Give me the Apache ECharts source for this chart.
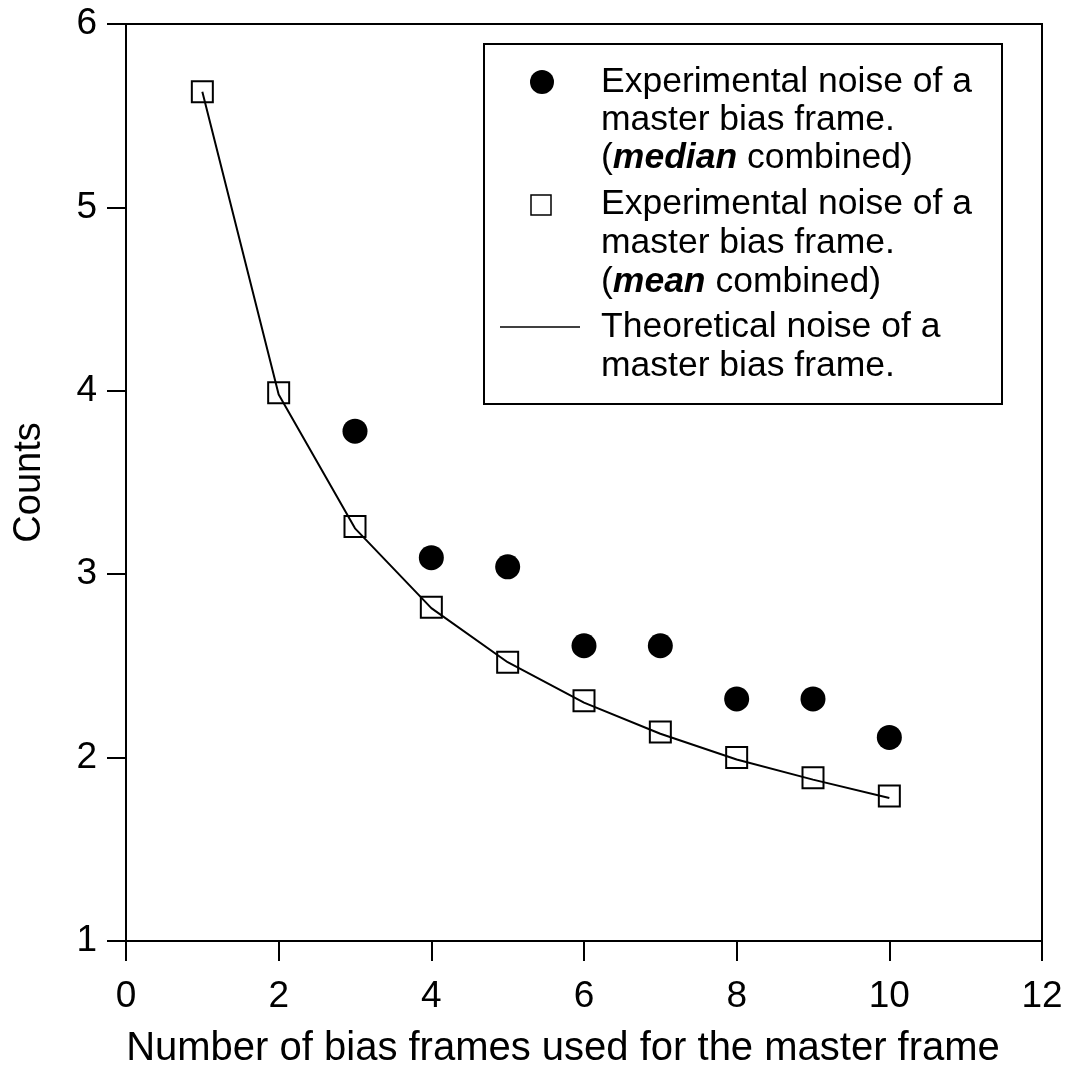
<!DOCTYPE html>
<html>
<head>
<meta charset="utf-8">
<script src="https://cdn.jsdelivr.net/npm/echarts@6/dist/echarts.min.js"></script>
<style>
html,body{margin:0;padding:0;background:#fff;}
#chart{width:1068px;height:1074px;}
</style>
</head>
<body>
<div id="chart"></div>
<script>
// ---- data ----
var frames = [1, 2, 3, 4, 5, 6, 7, 8, 9, 10];
var medianFrames = [3, 4, 5, 6, 7, 8, 9, 10];
var medianNoise = [3.78, 3.09, 3.04, 2.61, 2.61, 2.32, 2.32, 2.11];
var meanNoise = [5.63, 3.99, 3.26, 2.82, 2.52, 2.31, 2.14, 2.00, 1.89, 1.79];
var theoryNoise = [5.63, 3.98, 3.25, 2.815, 2.52, 2.30, 2.13, 1.99, 1.88, 1.78];
var xTicks = [0, 2, 4, 6, 8, 10, 12];
var yTicks = [1, 2, 3, 4, 5, 6];
var xTitle = 'Number of bias frames used for the master frame';
var yTitle = 'Counts';
var legendLines = [
  ['Experimental noise of a', 'master bias frame.', '({bi|median} combined)'],
  ['Experimental noise of a', 'master bias frame.', '({bi|mean} combined)'],
  ['Theoretical noise of a', 'master bias frame.']
];

var FONT = '"Liberation Sans", Arial, sans-serif';
var LFS = 35.5;
var chart = echarts.init(document.getElementById('chart'));

function pairs(xs, ys) { return xs.map(function (x, i) { return [x, ys[i]]; }); }

var rich = { bi: { fontFamily: FONT, fontSize: LFS, fontWeight: 'bold', fontStyle: 'italic', fill: '#000' } };

var legendChildren = [
  { type: 'rect', shape: { x: 484, y: 44, width: 518, height: 360 },
    style: { fill: '#fff', stroke: '#000', lineWidth: 2 } },
  { type: 'circle', shape: { cx: 542, cy: 82, r: 12 }, style: { fill: '#000' } },
  { type: 'rect', shape: { x: 531, y: 195, width: 20, height: 20 }, style: { fill: 'none', stroke: '#000', lineWidth: 1.5 } },
  { type: 'line', shape: { x1: 500, y1: 327, x2: 580, y2: 327 }, style: { stroke: '#000', lineWidth: 1.5 } }
];
var lineCenters = [[82, 120, 158], [204, 243, 282], [327, 366]];
legendLines.forEach(function (entry, i) {
  entry.forEach(function (t, j) {
    legendChildren.push({
      type: 'text', x: 601, y: lineCenters[i][j],
      style: { text: t, font: LFS + 'px ' + FONT, fill: '#000', verticalAlign: 'middle', align: 'left', rich: rich }
    });
  });
});

var option = {
  backgroundColor: '#fff',
  animation: false,
  grid: { left: 126, right: 26, top: 24, bottom: 132, show: true, borderColor: '#000', borderWidth: 2, backgroundColor: 'transparent' },
  xAxis: {
    type: 'value', min: xTicks[0], max: xTicks[xTicks.length - 1], interval: 2,
    name: xTitle, nameLocation: 'middle', nameGap: 88,
    nameTextStyle: { fontFamily: FONT, fontSize: 40, color: '#000', padding: [0, 42, 0, 0] },
    axisLine: { show: true, lineStyle: { color: '#000', width: 2 } },
    axisTick: { show: true, inside: false, length: 20, lineStyle: { color: '#000', width: 2 } },
    axisLabel: { fontFamily: FONT, fontSize: 37, color: '#000', margin: 37 },
    splitLine: { show: false }
  },
  yAxis: {
    type: 'value', min: yTicks[0], max: yTicks[yTicks.length - 1], interval: 1,
    name: yTitle, nameLocation: 'middle', nameGap: 77, nameRotate: 90,
    nameTextStyle: { fontFamily: FONT, fontSize: 38, color: '#000' },
    axisLine: { show: true, lineStyle: { color: '#000', width: 2 } },
    axisTick: { show: true, inside: false, length: 19, lineStyle: { color: '#000', width: 2 } },
    axisLabel: { fontFamily: FONT, fontSize: 37, color: '#000', margin: 29 },
    splitLine: { show: false }
  },
  series: [
    { name: 'theory', type: 'line', data: pairs(frames, theoryNoise), smooth: false, showSymbol: false,
      lineStyle: { color: '#000', width: 2 }, z: 2 },
    { name: 'median', type: 'scatter', data: pairs(medianFrames, medianNoise), symbol: 'circle', symbolSize: 25,
      itemStyle: { color: '#000', opacity: 1 }, z: 3 },
    { name: 'mean', type: 'scatter', data: pairs(frames, meanNoise), symbol: 'rect', symbolSize: 21,
      itemStyle: { color: 'none', borderColor: '#000', borderWidth: 2, opacity: 1 }, z: 4 }
  ],
  graphic: [{ type: 'group', children: legendChildren, z: 10 }]
};
chart.setOption(option);
</script>
</body>
</html>
